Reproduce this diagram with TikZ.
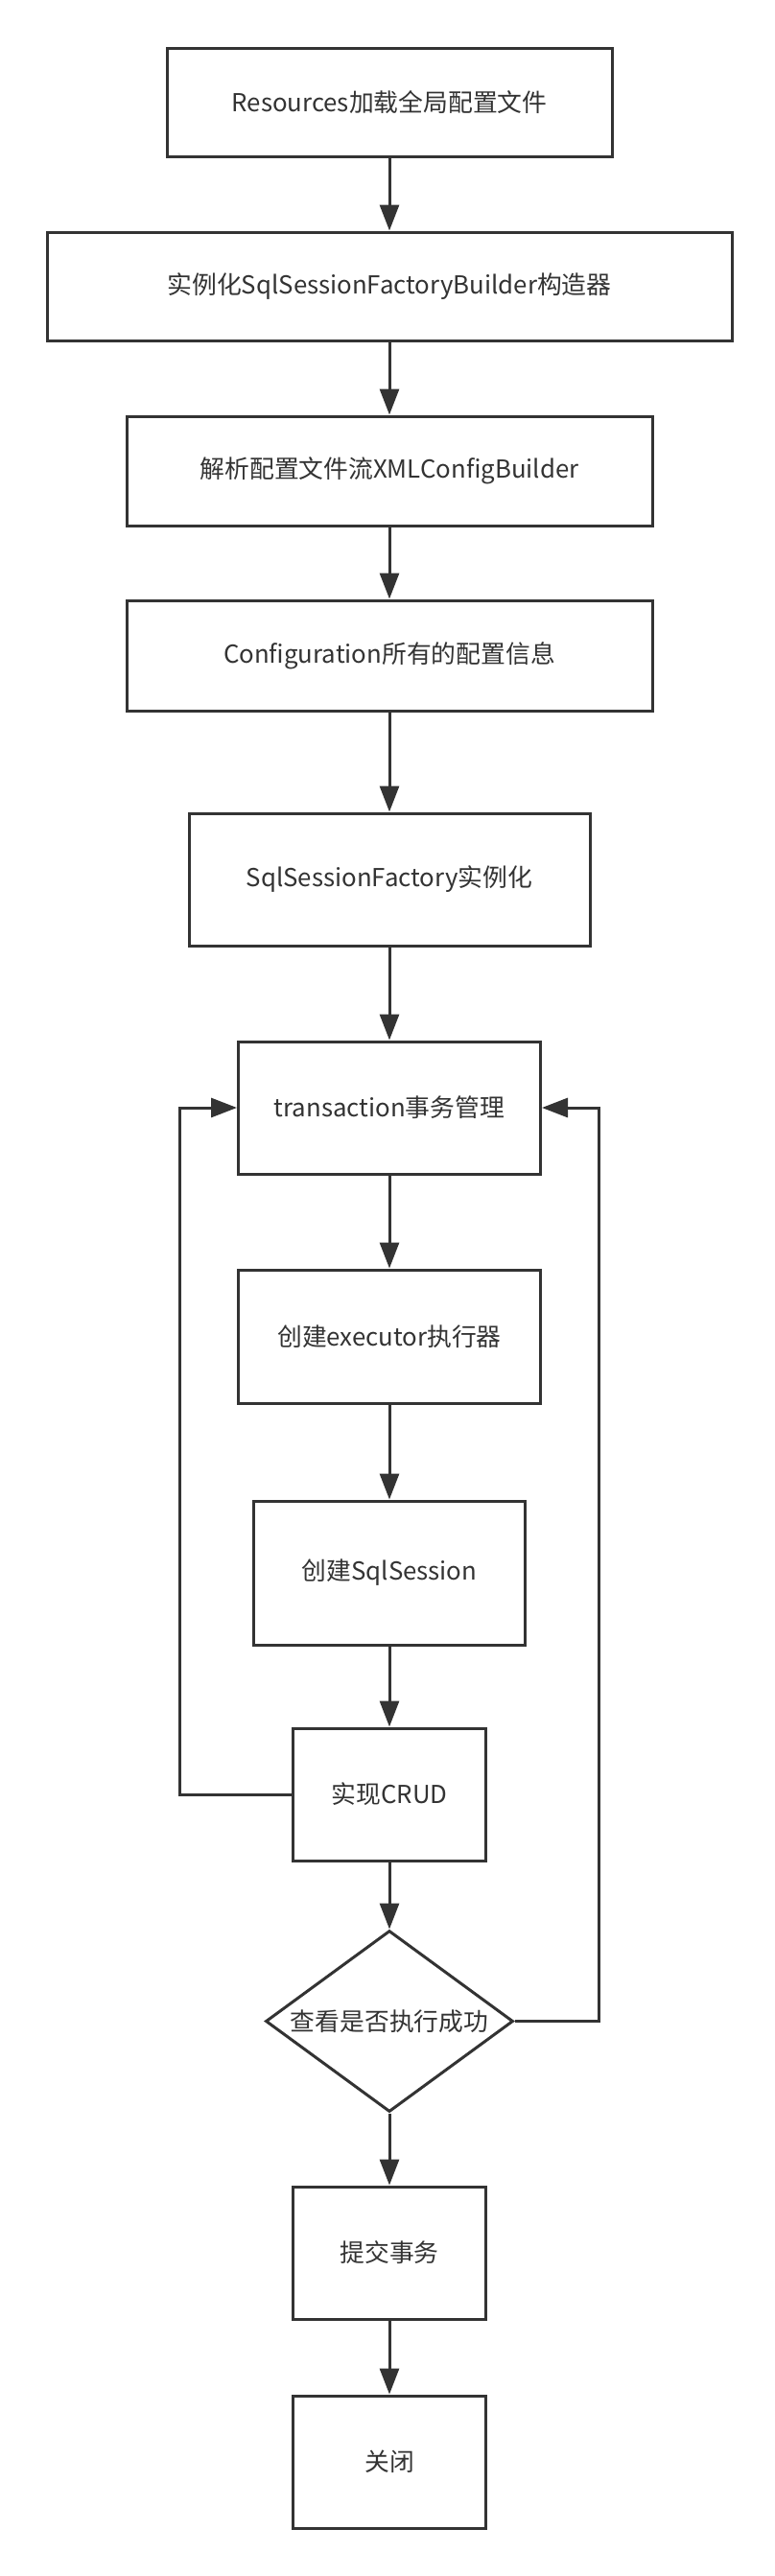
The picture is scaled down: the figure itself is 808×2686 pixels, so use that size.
\documentclass[tikz,border=0pt]{standalone}
\usepackage{fontspec}
\setmainfont{Noto Sans CJK SC}
\usetikzlibrary{arrows.meta,shapes.geometric}
\definecolor{ink}{HTML}{333333}
\begin{document}
\begin{tikzpicture}[x=1pt,y=-1pt,
  every node/.style={font=\fontsize{25.8}{30}\selectfont, text=ink},
  box/.style={draw=ink, line width=3pt, rectangle, inner sep=0pt},
  dec/.style={draw=ink, line width=3pt, diamond, inner sep=0pt, aspect=1.365},
  arr/.style={draw=ink, line width=3pt, -{Triangle[length=27pt,width=20pt]}},
  ]
  \fill[white] (0,0) rectangle (808,2686);
  \useasboundingbox (0,0) rectangle (808,2686);

  \node[box, minimum width=464pt, minimum height=113pt] (res) at (406,106.5) {Resources加载全局配置文件};
  \node[box, minimum width=714pt, minimum height=113pt] (bld) at (406,298.5) {实例化SqlSessionFactoryBuilder构造器};
  \node[box, minimum width=548pt, minimum height=114pt] (xml) at (406,491) {解析配置文件流XMLConfigBuilder};
  \node[box, minimum width=548pt, minimum height=115pt] (cfg) at (406,683.5) {Configuration所有的配置信息};
  \node[box, minimum width=418pt, minimum height=138pt] (fac) at (406,917) {SqlSessionFactory实例化};
  \node[box, minimum width=315pt, minimum height=138pt] (tx) at (406,1155) {transaction事务管理};
  \node[box, minimum width=315pt, minimum height=139pt] (exe) at (406,1393.5) {创建executor执行器};
  \node[box, minimum width=283pt, minimum height=150pt] (ses) at (406,1640) {创建SqlSession};
  \node[box, minimum width=201pt, minimum height=138pt] (crud) at (406,1871) {实现CRUD};
  \node[dec, minimum width=258pt, minimum height=189pt] (chk) at (406,2107.5) {查看是否执行成功};
  \node[box, minimum width=201pt, minimum height=138pt] (com) at (406,2349) {提交事务};
  \node[box, minimum width=201pt, minimum height=138pt] (cls) at (406,2567) {关闭};

  \draw[arr] (res) -- (bld);
  \draw[arr] (bld) -- (xml);
  \draw[arr] (xml) -- (cfg);
  \draw[arr] (cfg) -- (fac);
  \draw[arr] (fac) -- (tx);
  \draw[arr] (tx) -- (exe);
  \draw[arr] (exe) -- (ses);
  \draw[arr] (ses) -- (crud);
  \draw[arr] (crud) -- (chk);
  \draw[arr] (chk) -- (com);
  \draw[arr] (com) -- (cls);

  \draw[arr] (crud.west) -- ++(-117,0) |- (tx.west);
  \draw[arr] (chk.east) -- ++(88,0) |- (tx.east);
\end{tikzpicture}
\end{document}
